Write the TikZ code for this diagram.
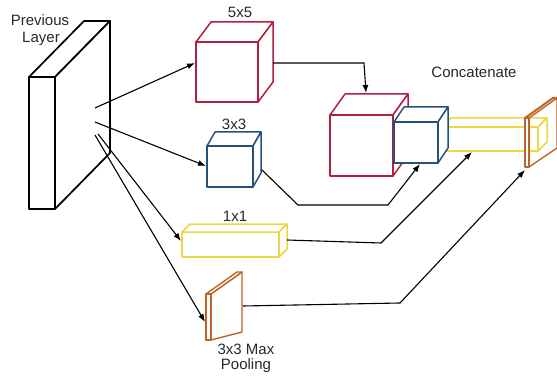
\documentclass[tikz,border=0pt]{standalone}
\usepackage{fontspec}
\setmainfont{Liberation Sans}
\usetikzlibrary{arrows.meta}
\definecolor{cred}{RGB}{178,32,62}
\definecolor{cblue}{RGB}{38,82,122}
\definecolor{cyel}{RGB}{236,216,70}
\definecolor{corg}{RGB}{190,100,40}
\definecolor{ctxt}{RGB}{40,40,40}
\newcommand{\cuboid}[8]{%
  % #1 style, #2 x1, #3 y1, #4 x2, #5 y2, #6 dx, #7 dy, #8 unused
  \filldraw[#1] (#2,#3) rectangle (#4,#5);
  \filldraw[#1] (#2,#3) -- ({#2+#6},{#3+#7}) -- ({#4+#6},{#3+#7}) -- (#4,#3) -- cycle;
  \filldraw[#1] (#4,#3) -- ({#4+#6},{#3+#7}) -- ({#4+#6},{#5+#7}) -- (#4,#5) -- cycle;
}
\begin{document}
\begin{tikzpicture}[x=1pt,y=-1pt,
  lbl/.style={font=\fontsize{15}{15}\selectfont, text=ctxt, inner sep=0pt, anchor=base},
  conn/.style={line width=1.1pt, black, -{Latex[length=8pt,width=6pt]}},
  boxline/.style={line width=1.5pt, line join=round, fill=white}]
\useasboundingbox (0,0) rectangle (557,377);

% previous layer slab
\cuboid{boxline, draw=black, line width=1.7pt}{29}{77}{55}{209}{55}{-56}{}

% texts
\node[lbl] (t1) at (40,26) {Previous};
\node[lbl] (t2) at (41,43) {Layer};
\node[lbl] (t3) at (240,18) {5x5};
\node[lbl] (t4) at (234,130) {3x3};
\node[lbl] (t5) at (235,221) {1x1};
\node[lbl] (t6) at (246,354) {3x3 Max};
\node[lbl] (t7) at (246,369) {Pooling};
\node[lbl] (t8) at (474,78) {Concatenate};

% branch boxes
\cuboid{boxline, draw=cred}{196}{42}{258}{102}{15}{-20}{}
\cuboid{boxline, draw=cblue}{207}{146}{253}{187}{8}{-14}{}
\cuboid{boxline, draw=cyel}{182}{232}{279}{257}{8}{-8}{}
% pooling slab
\filldraw[boxline, draw=corg, line width=1.4pt] (211,294) -- (242,272) -- (242,332) -- (211,340) -- cycle;
\filldraw[boxline, draw=corg, line width=1.4pt] (206,294) -- (237,272) -- (242,272) -- (211,294) -- cycle;
\filldraw[boxline, draw=corg, line width=1.4pt] (206,294) rectangle (211,340);

% concatenated block
\cuboid{boxline, draw=cyel}{442}{127}{538}{151}{9}{-9}{}
\cuboid{boxline, draw=cred}{330}{115}{393}{176}{15}{-21}{}
\cuboid{boxline, draw=cblue}{394}{122}{438}{163}{10}{-15}{}
\draw[line width=1.4pt, corg, line join=round] (529,118) -- (557,98) -- (557,148) -- (529,167);
\draw[line width=2pt, corg, line join=round] (525,118) -- (553,98) -- (557,98);
\filldraw[boxline, draw=corg, line width=1.4pt] (525,118) rectangle (529,167);

% coordinates for connectors
\coordinate (s1) at (95,108);
\coordinate (s2) at (95,122);
\coordinate (s3) at (98,134);
\coordinate (s4) at (95,135);
\coordinate (e1) at (195,63);
\coordinate (e2) at (206,166);
\coordinate (e3) at (181,241);
\coordinate (e4) at (205,322);

\draw[conn] (s1) -- (e1);
\draw[conn] (s2) -- (e2);
\draw[conn] (s3) -- (e3);
\draw[conn] (s4) -- (e4);

% branch outputs to concatenation
\coordinate (o1) at (273,63);
\coordinate (b1) at (364,63);
\coordinate (c1) at (366,93);
\draw[conn] (o1) -- (b1) -- (c1);

\coordinate (o2) at (262,170);
\coordinate (b2a) at (298,205);
\coordinate (b2b) at (388,205);
\coordinate (c2) at (420,164);
\draw[conn] (o2) -- (b2a) -- (b2b) -- (c2);

\coordinate (o3) at (287,240);
\coordinate (b3) at (381,243);
\coordinate (c3) at (472,152);
\draw[conn] (o3) -- (b3) -- (c3);

\coordinate (o4) at (243,306);
\coordinate (b4) at (400,303);
\coordinate (c4) at (525,170);
\draw[conn] (o4) -- (b4) -- (c4);
\end{tikzpicture}
\end{document}
